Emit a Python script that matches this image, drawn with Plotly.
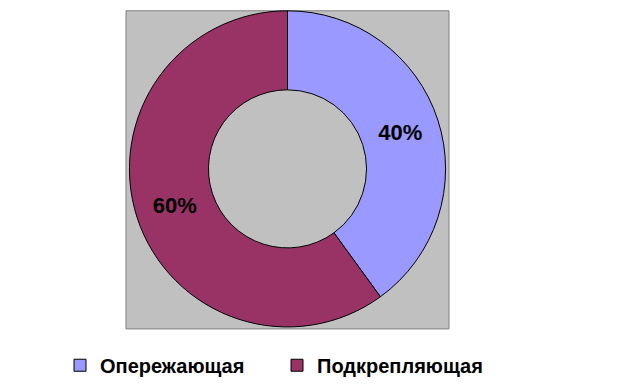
import plotly.graph_objects as go

labels = ["Опережающая", "Подкрепляющая"]
values = [40, 60]
colors = ["#9999FF", "#993366"]

W, H = 617, 385
# plot area box (pixels)
px0, px1, py0, py1 = 126, 449, 11, 335
# pie domain (pixels)
dx0, dx1, dy0, dy1 = 126.5, 448.5, 11, 333

fig = go.Figure(go.Pie(
    labels=labels,
    values=values,
    hole=0.5,
    sort=False,
    direction="clockwise",
    rotation=0,
    marker=dict(colors=colors, line=dict(color="black", width=1)),
    textinfo="percent",
    texttemplate="%{percent:.0%}",
    textposition="inside",
    insidetextorientation="horizontal",
    textfont=dict(family="Arial, Liberation Sans", size=22, color="black", weight="bold"),
    hoverinfo="skip",
    domain=dict(x=[dx0 / W, dx1 / W], y=[1 - dy1 / H, 1 - dy0 / H]),
))

fig.add_shape(type="rect", xref="paper", yref="paper",
              x0=px0 / W, x1=px1 / W, y0=1 - py1 / H, y1=1 - py0 / H,
              fillcolor="#C0C0C0", line=dict(color="#808080", width=1), layer="below")

fig.update_layout(
    width=W, height=H,
    margin=dict(l=0, r=0, t=0, b=0),
    paper_bgcolor="white",
    showlegend=True,
    legend=dict(orientation="h", x=60 / W, xanchor="left", y=1 - 372 / H, yanchor="middle",
                font=dict(family="Arial, Liberation Sans", size=20, color="black", weight="bold"),
                itemclick=False, itemdoubleclick=False, traceorder="normal",
                entrywidth=172, entrywidthmode="pixels"),
)

fig.write_html("out.html")
